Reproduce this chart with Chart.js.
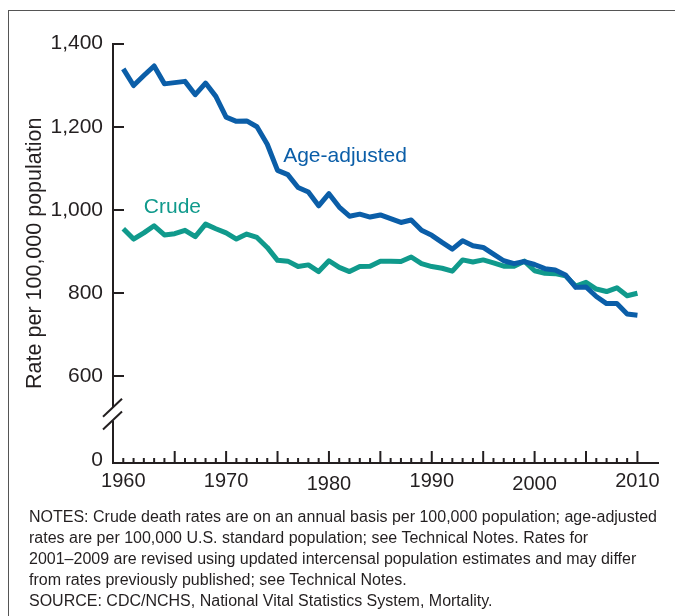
<!DOCTYPE html>
<html>
<head>
<meta charset="utf-8">
<script src="https://cdn.jsdelivr.net/npm/chart.js@4.4.0/dist/chart.umd.min.js"></script>
<style>
  html, body { margin: 0; padding: 0; background: #fff; }
  body { width: 675px; height: 616px; position: relative; overflow: hidden; font-family: "Liberation Sans", Arial, sans-serif; }
  #frame { position: absolute; left: 8px; top: 10px; width: 700px; height: 700px; border-left: 1.5px solid #555; border-top: 1.5px solid #555; box-sizing: border-box; }
  #c { position: absolute; left: 0; top: 0; }
  #notes { position: absolute; left: 29px; top: 507px; font-size: 16px; line-height: 20.9px; color: #231f20; white-space: nowrap; }
</style>
</head>
<body>
<div id="frame"></div>
<canvas id="c" width="675" height="616"></canvas>
<div id="notes">NOTES: Crude death rates are on an annual basis per 100,000 population; age-adjusted<br>rates are per 100,000 U.S. standard population; see Technical Notes. Rates for<br>2001–2009 are revised using updated intercensal population estimates and may differ<br>from rates previously published; see Technical Notes.<br>SOURCE: CDC/NCHS, National Vital Statistics System, Mortality.</div>
<script>
const years = [1960,1961,1962,1963,1964,1965,1966,1967,1968,1969,
               1970,1971,1972,1973,1974,1975,1976,1977,1978,1979,
               1980,1981,1982,1983,1984,1985,1986,1987,1988,1989,
               1990,1991,1992,1993,1994,1995,1996,1997,1998,1999,
               2000,2001,2002,2003,2004,2005,2006,2007,2008,2009,2010];
const ageAdjusted = [1339,1299,1323,1346,1303,1306,1309,1277,1305,1273,
                     1223,1213,1214,1200,1158,1095,1085,1054,1043,1010,
                     1039,1007,985,990,983,988,979,970,976,951,
                     939,922,906,926,914,910,894,878,871,876,
                     869,859,856,844,814,815,792,775,775,750,747];
const crude = [955,930,945,962,940,943,951,936,966,955,
               945,930,942,934,910,879,877,864,868,852,
               878,862,852,864,865,877,877,876,887,871,
               864,860,853,880,875,880,873,865,865,877,
               854,848,847,842,817,826,810,804,813,794,800];
const xTickYears = [1960,1970,1980,1990,2000,2010];
const xTickLabels = ['1960','1970','1980','1990','2000','2010'];
const yTickValues = [399,600,800,1000,1200,1400];
const yTickLabels = ['0','600','800','1,000','1,200','1,400'];
const seriesNames = ['Age-adjusted','Crude'];

const BLUE = '#0b5ea8';
const TEAL = '#109a8c';
const INK = '#231f20';
const FONT = '"Liberation Sans", Arial, sans-serif';

const decor = {
  id: 'decor',
  afterDraw(chart) {
    const ctx = chart.ctx;
    const xs = chart.scales.x, ys = chart.scales.y;
    const ca = chart.chartArea;
    ctx.save();
    ctx.strokeStyle = INK;
    ctx.lineWidth = 2;
    // y tick marks (inward)
    yTickValues.forEach((v, i) => {
      if (i === 0) return;
      const y = Math.round(ys.getPixelForValue(v));
      ctx.beginPath(); ctx.moveTo(ca.left, y); ctx.lineTo(ca.left + 11, y); ctx.stroke();
    });
    // x tick marks (inward)
    years.forEach(yr => {
      const x = xs.getPixelForValue(yr);
      const len = (yr % 5 === 0 && yr !== years[0]) ? 12 : 5;
      ctx.beginPath(); ctx.moveTo(x, ca.bottom); ctx.lineTo(x, ca.bottom - len); ctx.stroke();
    });
    // x labels
    ctx.fillStyle = INK;
    ctx.font = '20px ' + FONT;
    ctx.textAlign = 'center';
    ctx.textBaseline = 'alphabetic';
    xTickYears.forEach((yr, i) => {
      const x = xs.getPixelForValue(yr);
      const drop = (yr === 1980 || yr === 2000) ? 3 : 0;
      ctx.fillText(xTickLabels[i], x, ca.bottom + 24 + drop);
    });
    // axis break
    const y1 = ys.getPixelForValue(525), y2 = ys.getPixelForValue(494);
    ctx.fillStyle = '#fff';
    ctx.fillRect(ca.left - 3, y1, 6, y2 - y1);
    ctx.lineWidth = 2;
    [y1, y2].forEach(yc => {
      ctx.beginPath();
      ctx.moveTo(ca.left - 10, yc + 9);
      ctx.lineTo(ca.left + 9, yc - 9);
      ctx.stroke();
    });
    // series labels
    ctx.font = '21px ' + FONT;
    ctx.textAlign = 'left';
    ctx.fillStyle = BLUE;
    ctx.fillText(seriesNames[0], xs.getPixelForValue(1975.55), ys.getPixelForValue(1116));
    ctx.fillStyle = TEAL;
    ctx.fillText(seriesNames[1], xs.getPixelForValue(1962.0), ys.getPixelForValue(992));
    ctx.restore();
  }
};

new Chart(document.getElementById('c'), {
  type: 'line',
  data: {
    datasets: [
      { label: seriesNames[0], data: years.map((x, i) => ({x, y: ageAdjusted[i]})), borderColor: BLUE, borderWidth: 5, pointRadius: 0, tension: 0, borderJoinStyle: 'round', borderCapStyle: 'butt' },
      { label: seriesNames[1], data: years.map((x, i) => ({x, y: crude[i]})), borderColor: TEAL, borderWidth: 5, pointRadius: 0, tension: 0, borderJoinStyle: 'round', borderCapStyle: 'butt' }
    ]
  },
  options: {
    responsive: false,
    animation: false,
    devicePixelRatio: 1,
    layout: { padding: { top: 43.5, right: 17, bottom: 113, left: 0 } },
    plugins: { legend: { display: false }, tooltip: { enabled: false } },
    scales: {
      x: {
        type: 'linear', min: 1959, max: 2012,
        grid: { display: false, drawTicks: false },
        border: { display: true, color: INK, width: 2 },
        ticks: { display: false },
        afterFit(s) { s.height = 40; }
      },
      y: {
        type: 'linear', min: 392, max: 1400,
        grid: { display: false, drawTicks: false },
        border: { display: true, color: INK, width: 2 },
        afterBuildTicks(s) { s.ticks = yTickValues.map(v => ({ value: v })); },
        ticks: {
          padding: 10, color: INK, font: { size: 21, family: FONT },
          callback: (v, i) => yTickLabels[i]
        },
        title: { display: true, text: 'Rate per 100,000 population', color: INK, font: { size: 21.5, family: FONT }, padding: { top: 22, bottom: 0 } },
        afterFit(s) { s.width = 113; }
      }
    }
  },
  plugins: [decor]
});
</script>
</body>
</html>
